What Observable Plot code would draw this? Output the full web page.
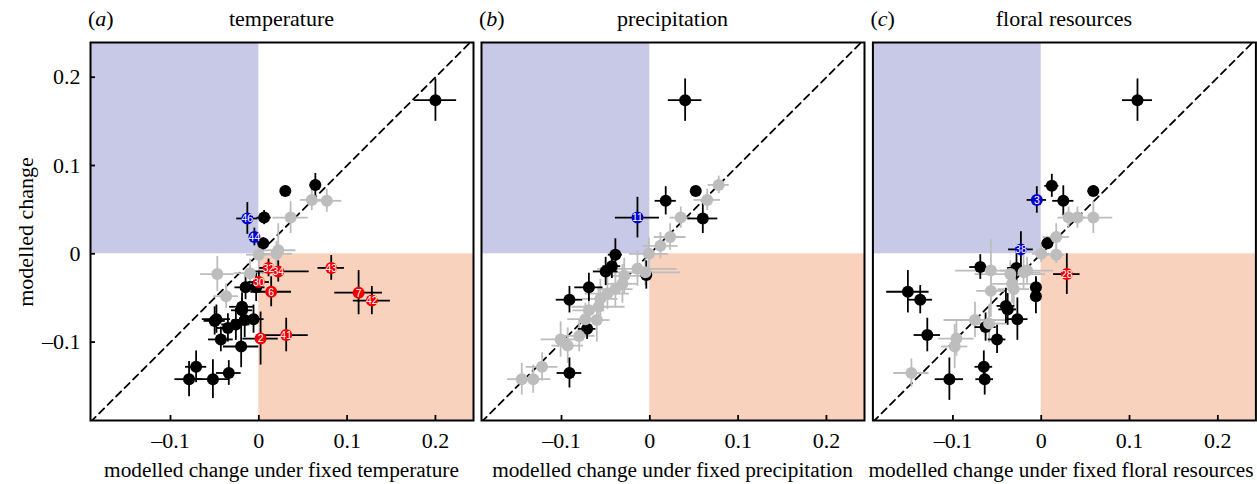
<!DOCTYPE html>
<html>
<head>
<meta charset="utf-8">
<script src="https://cdn.jsdelivr.net/npm/d3@7"></script>
<script src="https://cdn.jsdelivr.net/npm/@observablehq/plot@0.6"></script>
<style>
  html, body { margin: 0; padding: 0; background: #fff; }
  #wrap { position: relative; width: 1257px; height: 484px; overflow: hidden;
          font-family: "Liberation Serif", "Times New Roman", serif; color: #000; }
  .panel { position: absolute; top: 0; }
  .txt { position: absolute; font-size: 22px; line-height: 22px; white-space: nowrap; z-index: 2; }
  .xl { font-size: 21.3px; }
</style>
</head>
<body>
<div id="wrap"></div>
<script>
// ---------- axes ----------
const xDomain = [-0.1906, 0.2431];
const yDomain = [-0.1888, 0.2393];
const xTicks = [-0.1, 0, 0.1, 0.2];
const yTicks = [-0.1, 0, 0.1, 0.2];
const diagonal = [-0.2, 0.25];

// ---------- panel titles / labels ----------
const panelLetters = ["a", "b", "c"];
const panelTitles = ["temperature", "precipitation", "floral resources"];
const xLabels = [
  "modelled change under fixed temperature",
  "modelled change under fixed precipitation",
  "modelled change under fixed floral resources"
];
const yLabel = "modelled change";

// ---------- data: [x, y, xerr, yerr, label] ----------
// (a) temperature
const tempBlack = [
  [0.200, 0.174, 0.024, 0.024],
  [0.030, 0.071, 0.004, 0.006],
  [0.064, 0.078, 0.006, 0.013],
  [0.006, 0.041, 0.008, 0.008],
  [0.005, 0.012, 0.006, 0.006],
  [-0.015, -0.038, 0.012, 0.014],
  [-0.003, -0.038, 0.010, 0.016],
  [-0.019, -0.060, 0.014, 0.016],
  [-0.019, -0.064, 0.012, 0.014],
  [-0.048, -0.074, 0.016, 0.016],
  [-0.050, -0.076, 0.012, 0.016],
  [-0.026, -0.080, 0.016, 0.018],
  [-0.035, -0.084, 0.012, 0.016],
  [-0.016, -0.075, 0.014, 0.020],
  [-0.006, -0.074, 0.012, 0.016],
  [-0.043, -0.097, 0.014, 0.014],
  [-0.020, -0.105, 0.020, 0.024],
  [-0.071, -0.128, 0.012, 0.018],
  [-0.079, -0.142, 0.016, 0.020],
  [-0.052, -0.142, 0.018, 0.022],
  [-0.034, -0.135, 0.014, 0.014]
];
const tempGrey = [
  [0.060, 0.061, 0.013, 0.012],
  [0.077, 0.060, 0.017, 0.013],
  [0.036, 0.041, 0.020, 0.018],
  [0.000, -0.001, 0.014, 0.020],
  [0.022, 0.004, 0.020, 0.030],
  [0.020, 0.000, 0.018, 0.014],
  [-0.047, -0.023, 0.019, 0.020],
  [-0.010, -0.022, 0.018, 0.016],
  [-0.037, -0.048, 0.014, 0.014]
];
const tempRed = [
  [0.011, -0.016, 0.010, 0.010, "32"],
  [0.022, -0.020, 0.035, 0.012, "34"],
  [0.082, -0.016, 0.015, 0.014, "43"],
  [0.000, -0.032, 0.012, 0.012, "30"],
  [0.014, -0.043, 0.023, 0.017, "6"],
  [0.113, -0.044, 0.027, 0.025, "7"],
  [0.128, -0.053, 0.021, 0.016, "42"],
  [0.031, -0.092, 0.025, 0.019, "41"],
  [0.002, -0.096, 0.020, 0.030, "2"]
];
const tempBlue = [
  [-0.013, 0.040, 0.012, 0.018, "46"],
  [-0.005, 0.019, 0.005, 0.010, "44"]
];

// (b) precipitation
const precBlack = [
  [0.040, 0.174, 0.019, 0.024],
  [0.018, 0.060, 0.012, 0.016],
  [0.052, 0.071, 0.006, 0.006],
  [0.060, 0.040, 0.017, 0.017],
  [-0.039, -0.001, 0.008, 0.018],
  [-0.050, -0.020, 0.014, 0.016],
  [-0.043, -0.014, 0.010, 0.014],
  [-0.004, -0.024, 0.006, 0.016],
  [-0.069, -0.038, 0.016, 0.016],
  [-0.091, -0.052, 0.015, 0.015],
  [-0.071, -0.085, 0.010, 0.012],
  [-0.091, -0.135, 0.014, 0.017]
];
const precGrey = [
  [0.078, 0.078, 0.012, 0.010],
  [0.065, 0.061, 0.015, 0.012],
  [0.035, 0.041, 0.012, 0.012],
  [0.023, 0.019, 0.018, 0.015],
  [0.012, 0.009, 0.020, 0.015],
  [-0.001, 0.000, 0.022, 0.018],
  [-0.014, -0.017, 0.045, 0.020],
  [-0.005, -0.021, 0.040, 0.015],
  [-0.029, -0.025, 0.020, 0.020],
  [-0.031, -0.034, 0.018, 0.022],
  [-0.039, -0.040, 0.020, 0.020],
  [-0.048, -0.045, 0.025, 0.018],
  [-0.056, -0.051, 0.020, 0.022],
  [-0.058, -0.060, 0.030, 0.020],
  [-0.069, -0.064, 0.018, 0.020],
  [-0.073, -0.074, 0.020, 0.018],
  [-0.060, -0.075, 0.015, 0.025],
  [-0.080, -0.093, 0.018, 0.018],
  [-0.101, -0.097, 0.022, 0.020],
  [-0.093, -0.104, 0.018, 0.020],
  [-0.122, -0.128, 0.018, 0.016],
  [-0.132, -0.142, 0.020, 0.016],
  [-0.145, -0.142, 0.016, 0.018]
];
const precRed = [];
const precBlue = [
  [-0.014, 0.041, 0.025, 0.023, "11"]
];

// (c) floral resources
const floralBlack = [
  [0.109, 0.174, 0.017, 0.024],
  [0.012, 0.077, 0.008, 0.013],
  [0.025, 0.060, 0.012, 0.017],
  [0.059, 0.071, 0.006, 0.006],
  [0.007, 0.012, 0.006, 0.006],
  [-0.069, -0.015, 0.012, 0.014],
  [-0.028, -0.016, 0.010, 0.016],
  [-0.006, -0.038, 0.006, 0.012],
  [-0.006, -0.048, 0.006, 0.020],
  [-0.151, -0.043, 0.024, 0.024],
  [-0.137, -0.052, 0.014, 0.016],
  [-0.040, -0.059, 0.010, 0.020],
  [-0.038, -0.063, 0.010, 0.018],
  [-0.027, -0.074, 0.012, 0.024],
  [-0.063, -0.083, 0.012, 0.016],
  [-0.050, -0.097, 0.010, 0.016],
  [-0.129, -0.092, 0.015, 0.019],
  [-0.065, -0.128, 0.010, 0.018],
  [-0.064, -0.142, 0.010, 0.018],
  [-0.104, -0.142, 0.016, 0.024]
];
const floralGrey = [
  [0.031, 0.041, 0.012, 0.012],
  [0.041, 0.041, 0.010, 0.012],
  [0.059, 0.041, 0.022, 0.018],
  [0.017, 0.019, 0.015, 0.015],
  [0.000, 0.000, 0.010, 0.010],
  [0.017, -0.001, 0.010, 0.010],
  [-0.057, -0.019, 0.040, 0.035],
  [-0.035, -0.023, 0.040, 0.015],
  [-0.016, -0.019, 0.030, 0.015],
  [-0.020, -0.021, 0.020, 0.020],
  [-0.033, -0.034, 0.022, 0.022],
  [-0.031, -0.040, 0.018, 0.025],
  [-0.057, -0.042, 0.016, 0.030],
  [-0.075, -0.075, 0.035, 0.020],
  [-0.059, -0.079, 0.020, 0.022],
  [-0.096, -0.096, 0.020, 0.020],
  [-0.098, -0.105, 0.015, 0.025],
  [-0.147, -0.135, 0.020, 0.016]
];
const floralRed = [
  [0.029, -0.023, 0.015, 0.023, "28"]
];
const floralBlue = [
  [-0.005, 0.061, 0.011, 0.015, "3"],
  [-0.023, 0.005, 0.014, 0.020, "38"]
];

// ---------- styling ----------
const COLORS = { black: "#000000", grey: "#bdbdbd", red: "#f00000", blue: "#0000cc" };
const QUAD_BLUE = "#c8c9e6";
const QUAD_RED = "#f9d2be";
const serif = '"Liberation Serif", "Times New Roman", serif';
const fmt = d => d === 0 ? "0" : (d < 0 ? "\u2013" : "") + Math.abs(d).toFixed(1);

function rows(arr, kind) {
  return arr.map(d => ({ x: d[0], y: d[1], xe: d[2], ye: d[3], label: d[4], kind }));
}

function makePanel(groups, showY, left, mLeft, mRight) {
  const grey = rows(groups.grey, "grey");
  const black = rows(groups.black, "black");
  const colored = [...rows(groups.red, "red"), ...rows(groups.blue, "blue")];
  const quads = [
    { x1: xDomain[0], x2: 0, y1: 0, y2: yDomain[1], fill: QUAD_BLUE },
    { x1: 0, x2: xDomain[1], y1: yDomain[0], y2: 0, fill: QUAD_RED }
  ];
  const SW = 1.8;
  const marks = [
    Plot.rect(quads, { x1: "x1", x2: "x2", y1: "y1", y2: "y2", fill: "fill" }),
    Plot.line(diagonal, { x: d => d, y: d => d, stroke: "#000", strokeWidth: 1.8, strokeDasharray: "7,5", clip: true }),
    Plot.ruleY(grey, { y: "y", x1: d => d.x - d.xe, x2: d => d.x + d.xe, stroke: COLORS.grey, strokeWidth: SW }),
    Plot.ruleX(grey, { x: "x", y1: d => d.y - d.ye, y2: d => d.y + d.ye, stroke: COLORS.grey, strokeWidth: SW }),
    Plot.ruleY([...black, ...colored], { y: "y", x1: d => d.x - d.xe, x2: d => d.x + d.xe, stroke: "#000", strokeWidth: SW }),
    Plot.ruleX([...black, ...colored], { x: "x", y1: d => d.y - d.ye, y2: d => d.y + d.ye, stroke: "#000", strokeWidth: SW }),
    Plot.dot(black, { x: "x", y: "y", r: 6, fill: COLORS.black }),
    Plot.dot(grey, { x: "x", y: "y", r: 6, fill: COLORS.grey }),
    Plot.dot(colored, { x: "x", y: "y", r: 6, fill: d => COLORS[d.kind] }),
    Plot.text(colored, { x: "x", y: "y", text: "label", fill: "white", fontSize: 10.5,
      fontFamily: '"Liberation Sans Narrow", "Liberation Sans", Arial, sans-serif', dy: 0.5 }),
    Plot.frame({ stroke: "#000", strokeWidth: 2 }),
    Plot.axisX(xTicks, { anchor: "bottom", tickSize: -5, tickPadding: 17, tickFormat: fmt,
      label: null, fontSize: 22, fontFamily: serif, strokeWidth: 1.8 })
  ];
  if (showY) {
    marks.push(Plot.axisY(yTicks, { anchor: "left", tickSize: -5, tickPadding: 15, tickFormat: fmt,
      label: null, fontSize: 22, fontFamily: serif, strokeWidth: 1.8 }));
  }
  const svg = Plot.plot({
    width: mLeft + 383 + mRight,
    height: 484,
    marginLeft: mLeft,
    marginRight: mRight,
    marginTop: 42,
    marginBottom: 64,
    x: { domain: xDomain },
    y: { domain: yDomain, axis: showY ? undefined : null },
    style: { fontFamily: serif, fontSize: "22px", background: "transparent", color: "#000" },
    marks
  });
  svg.classList.add("panel");
  svg.style.left = left + "px";
  return svg;
}

const wrap = document.getElementById("wrap");
const panels = [
  { groups: { black: tempBlack, grey: tempGrey, red: tempRed, blue: tempBlue }, showY: true, left: 0, mLeft: 90, mRight: 2, frameLeft: 90 },
  { groups: { black: precBlack, grey: precGrey, red: precRed, blue: precBlue }, showY: false, left: 475, mLeft: 6, mRight: 2, frameLeft: 481 },
  { groups: { black: floralBlack, grey: floralGrey, red: floralRed, blue: floralBlue }, showY: false, left: 866, mLeft: 6.4, mRight: 1.6, frameLeft: 872.4 }
];

panels.forEach((p, i) => {
  wrap.appendChild(makePanel(p.groups, p.showY, p.left, p.mLeft, p.mRight));
  const center = p.frameLeft + 383 / 2;
  const letter = document.createElement("div");
  letter.className = "txt";
  letter.style.left = (p.frameLeft - 2) + "px";
  letter.style.top = "8px";
  letter.innerHTML = "(<i>" + panelLetters[i] + "</i>)";
  wrap.appendChild(letter);
  const title = document.createElement("div");
  title.className = "txt";
  title.style.left = (center - 150) + "px";
  title.style.width = "300px";
  title.style.textAlign = "center";
  title.style.top = "8px";
  title.textContent = panelTitles[i];
  wrap.appendChild(title);
  const xl = document.createElement("div");
  xl.className = "txt xl";
  const c = Math.min(center, 1257 - 196);
  xl.style.left = (c - 200) + "px";
  xl.style.width = "400px";
  xl.style.textAlign = "center";
  xl.style.top = "459px";
  xl.textContent = xLabels[i];
  wrap.appendChild(xl);
});

const yl = document.createElement("div");
yl.className = "txt";
yl.style.left = "-74.4px";
yl.style.top = "220.5px";
yl.style.width = "200px";
yl.style.textAlign = "center";
yl.style.transform = "rotate(-90deg)";
yl.textContent = yLabel;
wrap.appendChild(yl);
</script>
</body>
</html>
